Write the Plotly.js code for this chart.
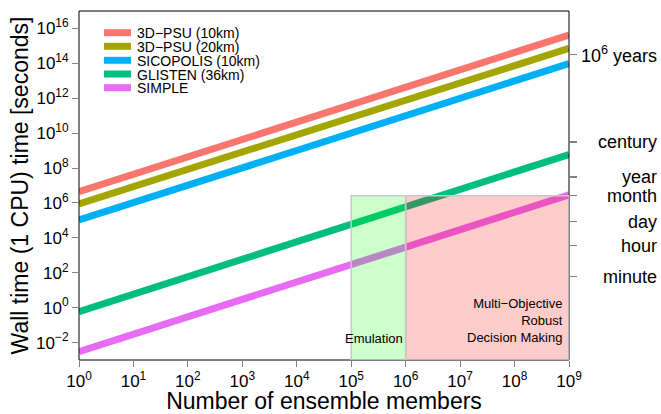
<!DOCTYPE html>
<html>
<head>
<meta charset="utf-8">
<script src="https://cdn.plot.ly/plotly-3.0.1.min.js"></script>
<style>html,body{margin:0;padding:0;background:#fff;}#chart{width:661px;height:414px;}</style>
</head>
<body>
<div id="chart"></div>
<script>
// ---- data ----
var ensembleMembers = [1, 1e9];
var seriesNames = ["3D\u2212PSU (10km)", "3D\u2212PSU (20km)", "SICOPOLIS (10km)", "GLISTEN (36km)", "SIMPLE"];
var psu10 = [4.4e6, 4.2e15];
var psu20 = [8.9e5, 7.2e14];
var sicopolis10 = [1.05e5, 9.8e13];
var glisten36 = [0.59, 6.0e8];
var simple = [3.0e-3, 2.9e6];
var seriesColors = ["#F8766D", "#A3A500", "#00B0F6", "#00BF7D", "#E76BF3"];

var xTickExps = [0, 1, 2, 3, 4, 5, 6, 7, 8, 9];
var yTickExps = [-2, 0, 2, 4, 6, 8, 10, 12, 14, 16];

var timeLabels = ["10<sup>6</sup> years", "century", "year", "month", "day", "hour", "minute"];
var timeSeconds = [3.16e14, 3.16e9, 3.16e7, 2.6e6, 86400, 3600, 60];

var regionNames = ["Emulation", "Multi\u2212Objective<br>Robust<br>Decision Making"];
var regionStart = [1e5, 1e6];
var regionEnd = [1e6, 1e9];
var regionTop = 2.6e6;
var regionFills = ["rgba(0,255,0,0.2)", "rgba(255,0,0,0.2)"];

// ---- build ----
var allSeries = [psu10, psu20, sicopolis10, glisten36, simple];
var traces = allSeries.map(function (s, i) {
  return {
    x: ensembleMembers, y: s, type: "scatter", mode: "lines",
    name: seriesNames[i], line: {color: seriesColors[i], width: 7},
    showlegend: false, hoverinfo: "skip"
  };
});
// invisible trace to activate right axis
traces.push({x: ensembleMembers, y: simple, yaxis: "y2", type: "scatter", mode: "lines",
  line: {width: 0}, opacity: 0, showlegend: false, hoverinfo: "skip"});

function sup(e) { return "10<sup>" + (e < 0 ? "\u2212" + (-e) : e) + "</sup>"; }

var W = 661, H = 414, ML = 79, MR = 92, MT = 11, MB = 54;
var PW = W - ML - MR, PH = H - MT - MB;
function px2paperX(px) { return (px - ML) / PW; }
function px2paperY(py) { return 1 - (py - MT) / PH; }

var FONT = "Liberation Sans, Arial, Helvetica, sans-serif";
var shapes = [{type: "rect", xref: "paper", yref: "paper", x0: 0, x1: 1, y0: 0, y1: 1,
  line: {color: "#000", width: 1}, layer: "above"}];
var annotations = [];

regionStart.forEach(function (x0, i) {
  shapes.push({type: "rect", xref: "x", yref: "y", x0: x0, x1: regionEnd[i], y0: 1e-3, y1: regionTop,
    fillcolor: regionFills[i], line: {color: "#c8c8c8", width: 1.5}, layer: "above"});
});
annotations.push({xref: "x", yref: "y", x: Math.log10(regionEnd[0]), y: -1.75, xanchor: "right", yanchor: "middle",
  text: regionNames[0], showarrow: false, xshift: -1, font: {family: FONT, size: 13, color: "#000"}});
annotations.push({xref: "x", yref: "y", x: Math.log10(regionEnd[1]), y: -0.75, xanchor: "right", yanchor: "middle",
  text: regionNames[1], showarrow: false, align: "right", xshift: -4, font: {family: FONT, size: 13, color: "#000"}});

// manual legend
var legendY = [32.7, 46.3, 60.3, 74.0, 87.7];
seriesNames.forEach(function (n, i) {
  var yp = px2paperY(legendY[i]);
  shapes.push({type: "line", xref: "paper", yref: "paper", x0: px2paperX(104), x1: px2paperX(131), y0: yp, y1: yp,
    line: {color: seriesColors[i], width: 7}, layer: "above"});
  annotations.push({xref: "paper", yref: "paper", x: px2paperX(136), y: px2paperY(legendY[i] + 0.7), xanchor: "left", yanchor: "middle",
    text: n, showarrow: false, borderpad: 0, font: {family: FONT, size: 14, color: "#000"}});
});

// right labels
timeLabels.forEach(function (t, i) {
  annotations.push({xref: "paper", yref: "y", x: px2paperX(659), y: Math.log10(timeSeconds[i]), xanchor: "right", yanchor: "middle",
    text: t, showarrow: false, font: {family: FONT, size: 18, color: "#000"}});
});

var layout = {
  width: W, height: H,
  margin: {l: ML, r: MR, t: MT, b: MB, pad: 0},
  paper_bgcolor: "#fff", plot_bgcolor: "#fff",
  showlegend: false,
  font: {family: FONT, color: "#000"},
  xaxis: {
    type: "log", range: [0, 9], showgrid: false, zeroline: false, showline: false,
    ticks: "outside", ticklen: 6, tickcolor: "#808080", tickwidth: 1,
    tickvals: xTickExps.map(function (e) { return Math.pow(10, e); }),
    ticktext: xTickExps.map(sup),
    tickfont: {family: FONT, size: 17, color: "#000"},
    title: {text: "Number of ensemble members", font: {family: FONT, size: 23, color: "#000"}, standoff: 4}
  },
  yaxis: {
    type: "log", range: [-3, 17], showgrid: false, zeroline: false, showline: false,
    ticks: "outside", ticklen: 6, tickcolor: "#808080", tickwidth: 1,
    tickvals: yTickExps.map(function (e) { return Math.pow(10, e); }),
    ticktext: yTickExps.map(sup),
    tickfont: {family: FONT, size: 17, color: "#000"},
    title: {text: "Wall time (1 CPU) time [seconds]", font: {family: FONT, size: 23, color: "#000"}, standoff: 1}
  },
  yaxis2: {
    type: "log", range: [-3, 17], overlaying: "y", side: "right", showgrid: false, zeroline: false, showline: false,
    ticks: "outside", ticklen: 7, tickcolor: "#808080", tickwidth: 1.5,
    tickvals: timeSeconds, showticklabels: false
  },
  shapes: shapes,
  annotations: annotations
};

Plotly.newPlot("chart", traces, layout, {staticPlot: true, displayModeBar: false});
</script>
</body>
</html>
